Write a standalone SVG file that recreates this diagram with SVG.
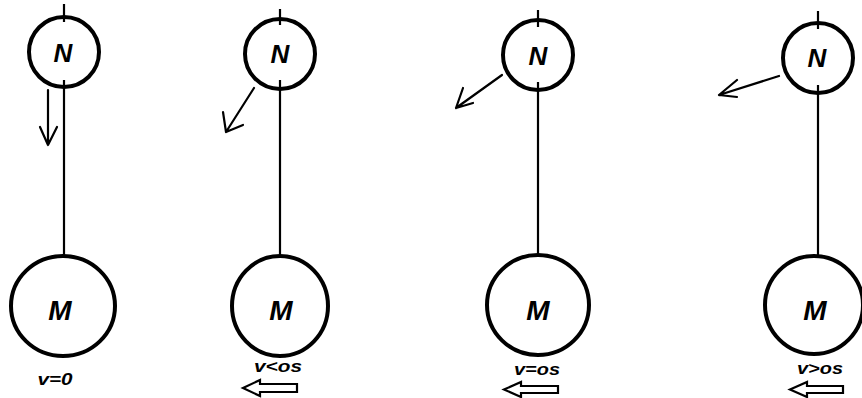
<svg xmlns="http://www.w3.org/2000/svg" width="862" height="398" viewBox="0 0 862 398">
<style>
.c{fill:none;stroke:#000;stroke-width:4}
.l{fill:none;stroke:#000;stroke-width:2.2}
.a{fill:none;stroke:#000;stroke-width:2.2;stroke-linecap:round;stroke-linejoin:round}
.h{fill:#fff;stroke:#000;stroke-width:2.2;stroke-linejoin:miter}
.t{font-family:"Liberation Sans",Arial,sans-serif;font-weight:bold;font-style:italic;fill:#000;text-anchor:middle}
.n{font-size:26px}
.m{font-size:28px}
.s{font-size:17px}
</style>
<rect width="862" height="398" fill="#fff"/>
<g id="connectors">
<line class="l" x1="64" y1="4" x2="64" y2="22"/>
<line class="l" x1="64" y1="80" x2="64" y2="257"/>
<line class="l" x1="280" y1="9" x2="280" y2="25"/>
<line class="l" x1="280" y1="80" x2="280" y2="257"/>
<line class="l" x1="538" y1="10" x2="538" y2="27"/>
<line class="l" x1="538" y1="82" x2="538" y2="255"/>
<line class="l" x1="818" y1="11" x2="818" y2="29"/>
<line class="l" x1="818" y1="85" x2="818" y2="256"/>
<path class="a" d="M48,90 L48,145 M40,127 L48,145 L57,127"/>
<path class="a" d="M254,88 L226,132 M223,112 L226,132 L243,125"/>
<path class="a" d="M502,75 L456,108 M463,88 L456,108 L473,103"/>
<path class="a" d="M779,76 L719,95 M737,80 L719,95 L737,97"/>
</g>
<g id="N1"><circle class="c" cx="64" cy="52" r="35"/><text class="t n" x="63" y="62">N</text></g>
<g id="M1"><ellipse class="c" cx="63" cy="306" rx="52" ry="50"/><text class="t m" x="60" y="320">M</text></g>
<g id="label1"><text class="t s" x="55" y="385" textLength="35" lengthAdjust="spacingAndGlyphs">v=0</text></g>
<g id="N2"><circle class="c" cx="280" cy="54" r="35"/><text class="t n" x="280" y="63">N</text></g>
<g id="M2"><ellipse class="c" cx="280" cy="306" rx="48" ry="50"/><text class="t m" x="281" y="320">M</text></g>
<g id="label2"><text class="t s" x="278" y="372" textLength="48" lengthAdjust="spacingAndGlyphs">v&lt;os</text>
<path class="h" d="M243,388 L260,380 L260,384 L297,384 L297,392 L260,392 L260,396 Z"/></g>
<g id="N3"><circle class="c" cx="538" cy="55" r="35"/><text class="t n" x="538" y="65">N</text></g>
<g id="M3"><ellipse class="c" cx="538" cy="305" rx="51" ry="50"/><text class="t m" x="538" y="320">M</text></g>
<g id="label3"><text class="t s" x="537" y="375" textLength="46" lengthAdjust="spacingAndGlyphs">v=os</text>
<path class="h" d="M504,389.5 L521,382 L521,386 L558,386 L558,393 L521,393 L521,397 Z"/></g>
<g id="N4"><circle class="c" cx="818" cy="58" r="35"/><text class="t n" x="817" y="67">N</text></g>
<g id="M4"><ellipse class="c" cx="814" cy="305" rx="49" ry="49"/><text class="t m" x="815" y="320">M</text></g>
<g id="label4"><text class="t s" x="820" y="374" textLength="46" lengthAdjust="spacingAndGlyphs">v&gt;os</text>
<path class="h" d="M790,389.5 L807,382 L807,386 L843,386 L843,393 L807,393 L807,397 Z"/></g>
</svg>
